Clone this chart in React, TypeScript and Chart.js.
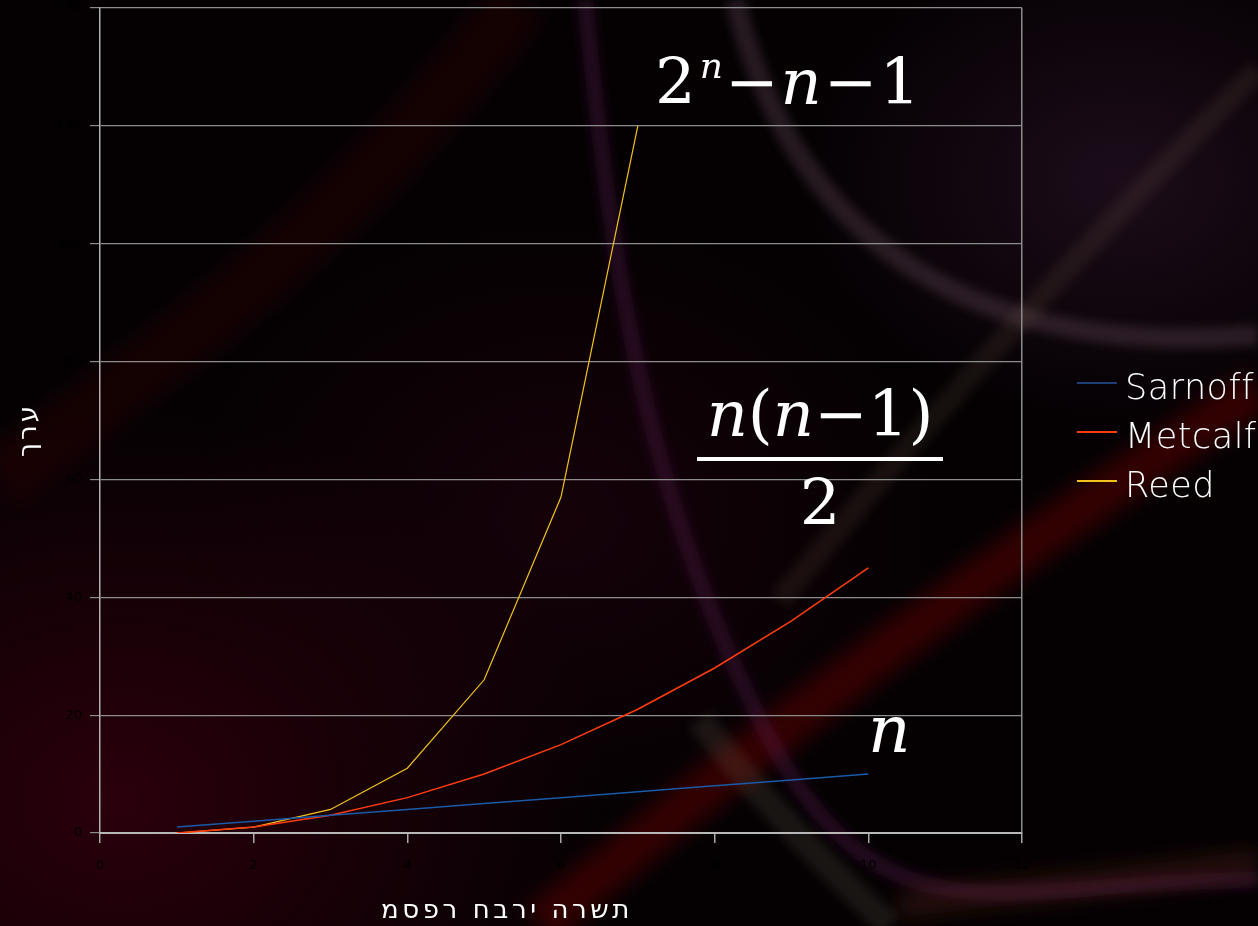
import React, { useEffect, useRef } from "react";
import { Chart, registerables } from "chart.js";

Chart.register(...registerables);

// ---- data ----
const nValues = [1, 2, 3, 4, 5, 6, 7, 8, 9, 10];
const sarnoffValues = [1, 2, 3, 4, 5, 6, 7, 8, 9, 10];
const metcalfValues = [0, 1, 3, 6, 10, 15, 21, 28, 36, 45];
const reedValues = [0, 1, 4, 11, 26, 57, 120];
const seriesNames = ["Sarnoff", "Metcalf", "Reed"];
const seriesColors = ["#1a5aa8", "#ff3c12", "#f2c21e"];
const legendColors = ["#1d3f78", "#ff3c12", "#f2c21e"];
const xMin = 0;
const xMax = 12;
const xStep = 2;
const yMin = 0;
const yMax = 140;
const yStep = 20;
const xTitle = "מספר חברי הרשת";
const yTitle = "ערך";

const W = 1258;
const H = 926;

function toPoints(values: number[]) {
  return values.map((v, i) => ({ x: nValues[i], y: v }));
}

export default function App() {
  const canvasRef = useRef<HTMLCanvasElement | null>(null);

  useEffect(() => {
    document.body.style.margin = "0";
    const canvas = canvasRef.current;
    if (!canvas) return;
    const seriesData = [sarnoffValues, metcalfValues, reedValues];
    const chart = new Chart(canvas, {
      type: "line",
      data: {
        datasets: seriesNames.map((name, i) => ({
          label: name,
          data: toPoints(seriesData[i]),
          borderColor: seriesColors[i],
          backgroundColor: seriesColors[i],
          borderWidth: i === 2 ? 1.2 : 1.5,
          pointRadius: 0,
          tension: 0,
          fill: false,
        })),
      },
      options: {
        responsive: false,
        animation: false,
        layout: { padding: { top: 8, right: W - 1022, left: 0, bottom: 0 } },
        plugins: {
          legend: { display: false },
          tooltip: { enabled: false },
        },
        scales: {
          x: {
            type: "linear",
            min: xMin,
            max: xMax,
            ticks: {
              stepSize: xStep,
              color: "#000000",
              font: { family: "DejaVu Sans", size: 13 },
              padding: 15,
            },
            grid: {
              color: (ctx: any) =>
                ctx.tick && ctx.tick.value === xMax ? "#8c8c8c" : "rgba(0,0,0,0)",
              tickColor: "#a8a8a8",
              tickLength: 10,
              lineWidth: 1.5,
            },
            border: { color: "#b8b8b8", width: 2 },
            afterFit: (scale: any) => {
              scale.height = H - 833;
              scale.paddingLeft = 0;
              scale.paddingRight = 0;
            },
          },
          y: {
            type: "linear",
            min: yMin,
            max: yMax,
            ticks: {
              stepSize: yStep,
              color: "#000000",
              font: { family: "DejaVu Sans", size: 13 },
              padding: 8,
            },
            grid: {
              color: "#8c8c8c",
              tickColor: "#8c8c8c",
              tickLength: 10,
              lineWidth: 1.2,
            },
            border: { color: "#b0b0b0", width: 1.5 },
            afterFit: (scale: any) => {
              scale.width = 100;
              scale.paddingTop = 0;
              scale.paddingBottom = 0;
            },
          },
        },
      },
    });
    return () => chart.destroy();
  }, []);

  const serif = "'DejaVu Serif', serif";
  const formulaStyle: React.CSSProperties = {
    position: "absolute",
    color: "#ffffff",
    fontFamily: serif,
    fontSize: 64,
    lineHeight: "64px",
    whiteSpace: "nowrap",
  };

  return (
    <div
      style={{
        position: "absolute",
        left: 0,
        top: 0,
        width: W,
        height: H,
        overflow: "hidden",
        background:
          "radial-gradient(ellipse 650px 520px at 120px 800px, rgba(44,0,12,0.95), rgba(20,0,6,0) 75%), radial-gradient(ellipse 420px 320px at 1120px 180px, rgba(32,14,30,0.85), rgba(0,0,0,0) 75%), radial-gradient(ellipse 500px 400px at 560px 520px, rgba(28,2,12,0.7), rgba(0,0,0,0) 75%), #050103",
      }}
    >
      <svg width={W} height={H} style={{ position: "absolute", left: 0, top: 0 }}>
        <defs>
          <filter id="b1" x="-50%" y="-50%" width="200%" height="200%">
            <feGaussianBlur stdDeviation="10" />
          </filter>
          <filter id="b2" x="-50%" y="-50%" width="200%" height="200%">
            <feGaussianBlur stdDeviation="5" />
          </filter>
        </defs>
        <path d="M 0 480 C 150 360, 330 250, 520 0" stroke="rgba(80,0,25,0.2)" strokeWidth="60" fill="none" filter="url(#b1)" />
        <path d="M 540 926 C 700 790, 950 590, 1258 390" stroke="rgba(110,8,8,0.42)" strokeWidth="45" fill="none" filter="url(#b1)" />
        <path d="M 585 0 C 610 250, 640 480, 760 720 S 1000 880, 1258 880" stroke="rgba(100,35,90,0.3)" strokeWidth="16" fill="none" filter="url(#b2)" />
        <path d="M 700 720 C 760 800, 830 870, 890 926" stroke="rgba(150,140,110,0.14)" strokeWidth="26" fill="none" filter="url(#b2)" />
        <path d="M 900 905 C 1050 885, 1150 880, 1258 862" stroke="rgba(150,70,40,0.22)" strokeWidth="26" fill="none" filter="url(#b1)" />
        <path d="M 735 0 C 790 230, 960 360, 1258 335" stroke="rgba(150,115,130,0.22)" strokeWidth="20" fill="none" filter="url(#b2)" />
        <path d="M 1258 70 C 1100 230, 960 380, 780 600" stroke="rgba(150,120,80,0.12)" strokeWidth="22" fill="none" filter="url(#b2)" />
      </svg>
      <canvas
        ref={canvasRef}
        width={W}
        height={H}
        style={{ position: "absolute", left: 0, top: 0, width: W, height: H }}
      />

      {/* formulas */}
      <div style={{ ...formulaStyle, left: 655, top: 50 }}>
        <span>2</span>
        <span style={{ fontStyle: "italic", fontSize: 36, position: "relative", top: -26, marginLeft: 4 }}>n</span>
        <span style={{ margin: "0 2px" }}>−</span>
        <span style={{ fontStyle: "italic" }}>n</span>
        <span style={{ margin: "0 2px" }}>−</span>
        <span>1</span>
      </div>
      <div style={{ position: "absolute", left: 697, top: 382, width: 246, color: "#fff", fontFamily: serif, textAlign: "center" }}>
        <div style={{ fontSize: 64, lineHeight: "64px", whiteSpace: "nowrap" }}>
          <span style={{ fontStyle: "italic" }}>n</span>
          <span>(</span>
          <span style={{ fontStyle: "italic" }}>n</span>
          <span>−</span>
          <span>1</span>
          <span>)</span>
        </div>
        <div style={{ height: 4, background: "#fff", marginTop: 11 }} />
        <div style={{ fontSize: 64, lineHeight: "64px", marginTop: 10 }}>2</div>
      </div>
      <div style={{ ...formulaStyle, left: 868, top: 698, fontStyle: "italic", fontSize: 66 }}>n</div>

      {/* legend */}
      {seriesNames.map((name, i) => (
        <React.Fragment key={name}>
          <div
            style={{
              position: "absolute",
              left: 1077,
              top: 382 + i * 49,
              width: 40,
              height: 1.5,
              background: legendColors[i],
            }}
          />
          <div
            style={{
              position: "absolute",
              left: 1125,
              top: 370 + i * 49,
              color: "#ffffff",
              fontFamily: "'DejaVu Sans', sans-serif",
              fontWeight: 200,
              fontSize: 35,
              lineHeight: "35px",
              letterSpacing: 0.5,
              whiteSpace: "nowrap",
            }}
          >
            {name}
          </div>
        </React.Fragment>
      ))}

      {/* axis titles */}
      <div
        style={{
          position: "absolute",
          left: 507 - 160,
          width: 320,
          top: 895,
          textAlign: "center",
          color: "#ffffff",
          fontFamily: "'DejaVu Sans', sans-serif",
          fontSize: 26,
          letterSpacing: 3.6,
          lineHeight: "28px",
          whiteSpace: "nowrap",
          direction: "ltr",
          unicodeBidi: "bidi-override",
        }}
      >
        {xTitle}
      </div>
      <div
        dir="rtl"
        style={{
          position: "absolute",
          left: 27 - 50,
          top: 430 - 14,
          width: 100,
          height: 28,
          textAlign: "center",
          color: "#ffffff",
          fontFamily: "'DejaVu Sans', sans-serif",
          fontSize: 26,
          letterSpacing: 3,
          lineHeight: "28px",
          transform: "rotate(-90deg)",
          whiteSpace: "nowrap",
        }}
      >
        {yTitle}
      </div>
    </div>
  );
}
